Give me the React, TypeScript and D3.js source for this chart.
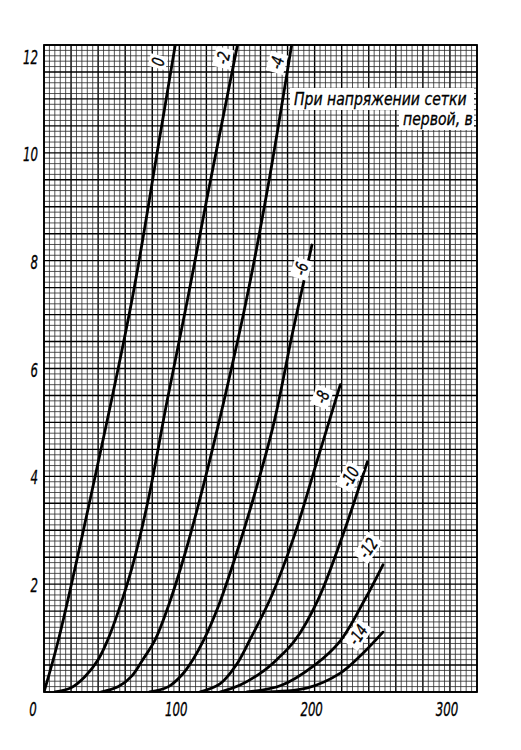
import React from "react";
import * as d3 from "d3";

// ---- data ----
const xDomain = [0, 320]; // anode voltage, V
const yDomain = [0, 12]; // anode current, mA
const xTicks = [0, 100, 200, 300];
const yTicks = [2, 4, 6, 8, 10, 12];

const gridVoltages = ["0", "-2", "-4", "-6", "-8", "-10", "-12", "-14"];

const vG0 = [0, 10.6, 34, 65, 84, 97];
const iG0 = [0, 0.96, 3.56, 7.27, 10.06, 12];

const vG2 = [8, 20, 30, 40, 47, 55, 65, 77, 91, 106, 120, 143];
const iG2 = [0, 0.08, 0.28, 0.6, 0.96, 1.5, 2.3, 3.56, 5.4, 7.27, 9.1, 12];

const vG4 = [42, 55, 65, 73, 82, 92, 104, 118, 133, 149, 165, 183];
const iG4 = [0, 0.1, 0.3, 0.6, 0.96, 1.6, 2.55, 3.85, 5.4, 7.2, 9.3, 12];

const vG6 = [78, 92, 102, 110, 118, 129, 142, 156, 170, 184, 198];
const iG6 = [0, 0.1, 0.32, 0.6, 0.96, 1.6, 2.55, 3.7, 5.0, 6.7, 8.29];

const vG8 = [115, 130, 142, 152, 168.5, 185, 202, 219];
const iG8 = [0, 0.15, 0.5, 0.96, 1.8, 2.9, 4.3, 5.7];

const vG10 = [130, 145, 160, 172, 185.5, 202.5, 220, 239];
const iG10 = [0, 0.13, 0.35, 0.6, 0.96, 1.71, 2.85, 4.27];

const vG12 = [150, 175, 200, 219, 237, 250.5];
const iG12 = [0, 0.12, 0.5, 0.95, 1.71, 2.36];

const vG14 = [160, 194, 219, 235, 250.5];
const iG14 = [0, 0.07, 0.35, 0.7, 1.11];

// label anchor (in data units) and slant for each curve label
const labelV = [84.3, 132.3, 172.2, 190, 205.5, 226, 239.5, 232];
const labelI = [11.69, 11.76, 11.67, 7.85, 5.47, 3.99, 2.67, 1.06];
const labelAngle = [-76, -76, -74, -72, -70, -62, -55, -55];

const legendLine1 = "При напряжении сетки";
const legendLine2 = "первой, в";

const curvesV = [vG0, vG2, vG4, vG6, vG8, vG10, vG12, vG14];
const curvesI = [iG0, iG2, iG4, iG6, iG8, iG10, iG12, iG14];

const FONT = "'DejaVu Sans', sans-serif";

function NarrowText(props: {
  x: number;
  y: number;
  sx: number;
  size: number;
  anchor?: string;
  children: React.ReactNode;
}) {
  const { x, y, sx, size, anchor = "start", children } = props;
  return (
    <text
      transform={`translate(${x},${y}) scale(${sx},1)`}
      textAnchor={anchor}
      fontFamily={FONT}
      fontStyle="italic"
      fontSize={size}
      fill="#000"
      stroke="#000"
      strokeWidth={0.35}
    >
      {children}
    </text>
  );
}

export default function App() {
  const left = 44, right = 477, top = 45, bottom = 692;
  const x = d3.scaleLinear().domain(xDomain).range([left, right]);
  const y = d3.scaleLinear().domain(yDomain).range([bottom, top]);

  const fineX = d3.range(0, 320.001, 4);
  const fineY = d3.range(0, 120.001, 1).map((d) => d / 10);

  const line = d3
    .line<[number, number]>()
    .x((d) => x(d[0]))
    .y((d) => y(d[1]))
    .curve(d3.curveCatmullRom.alpha(0.5));

  return (
    <svg
      width={521}
      height={750}
      style={{ position: "absolute", left: 0, top: 0, background: "#fff" }}
    >
      <rect x={0} y={0} width={521} height={750} fill="#fff" />
      <defs>
        <clipPath id="plotclip">
          <rect x={left} y={top} width={right - left} height={bottom - top} />
        </clipPath>
      </defs>
      <g>
        {fineX.map((v, i) => {
          const heavy = i % 5 === 0;
          return (
            <line
              key={"gx" + i}
              x1={x(v)}
              x2={x(v)}
              y1={top}
              y2={bottom}
              stroke={heavy ? "#000" : "#2a2a2a"}
              strokeWidth={heavy ? 1.4 : 0.8}
            />
          );
        })}
        {fineY.map((v, i) => {
          const heavy = i % 5 === 0;
          return (
            <line
              key={"gy" + i}
              x1={left}
              x2={right}
              y1={y(v)}
              y2={y(v)}
              stroke={heavy ? "#000" : "#2a2a2a"}
              strokeWidth={heavy ? 1.4 : 0.8}
            />
          );
        })}
        <rect
          x={left}
          y={top}
          width={right - left}
          height={bottom - top}
          fill="none"
          stroke="#000"
          strokeWidth={1.8}
        />
      </g>

      {/* legend */}
      <rect x={290} y={88} width={184} height={22} fill="#fff" />
      <rect x={399} y={109} width={75} height={21} fill="#fff" />
      <NarrowText x={294} y={105} sx={0.78} size={18}>
        {legendLine1}
      </NarrowText>
      <NarrowText x={403} y={125} sx={0.78} size={18}>
        {legendLine2}
      </NarrowText>

      {/* curves */}
      <g clipPath="url(#plotclip)">
        {curvesV.map((vs, ci) => (
          <path
            key={"c" + ci}
            d={line(vs.map((v, j) => [v, curvesI[ci][j]] as [number, number])) || ""}
            fill="none"
            stroke="#000"
            strokeWidth={2.8}
            strokeLinecap="round"
          />
        ))}
      </g>

      {/* curve labels */}
      {gridVoltages.map((g, i) => {
        const cx = x(labelV[i]);
        const cy = y(labelI[i]);
        const w = g.length * 7 + 6;
        return (
          <g key={"l" + i} transform={`translate(${cx},${cy}) rotate(${labelAngle[i]})`}>
            <rect x={-w / 2} y={-9} width={w} height={18} fill="#fff" />
            <NarrowText x={0} y={6} sx={0.72} size={17} anchor="middle">
              {g}
            </NarrowText>
          </g>
        );
      })}

      {/* axis labels */}
      {xTicks.map((t) => (
        <NarrowText key={"xt" + t} x={x(t) - (t === 0 ? 11 : 3)} y={716} sx={0.62} size={19} anchor="middle">
          {t}
        </NarrowText>
      ))}
      {yTicks.map((t) => (
        <NarrowText key={"yt" + t} x={38} y={y(t) + (t === 12 ? 19 : 8)} sx={0.62} size={19} anchor="end">
          {t}
        </NarrowText>
      ))}
    </svg>
  );
}
